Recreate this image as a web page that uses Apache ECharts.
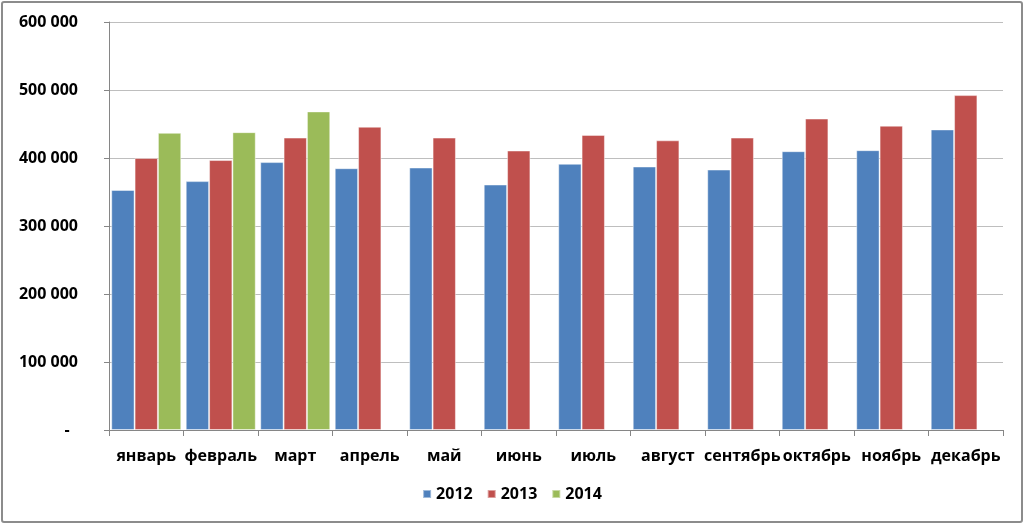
<!DOCTYPE html>
<html>
<head>
<meta charset="utf-8">
<script src="https://cdn.jsdelivr.net/npm/echarts@6/dist/echarts.min.js"></script>
<style>
html,body{margin:0;padding:0;background:#fff;}
#frame{position:absolute;left:1px;top:1px;width:1018px;height:518px;border:2px solid #8c8c8c;border-radius:3px;}
#chart{position:absolute;left:0;top:0;width:1024px;height:524px;}
</style>
</head>
<body>
<div id="frame"></div>
<div id="chart"></div>
<script>
const categories = ['январь','февраль','март','апрель','май','июнь','июль','август','сентябрь','октябрь','ноябрь','декабрь'];
const seriesNames = ['2012','2013','2014'];
const values2012 = [353000, 366000, 394000, 385000, 386000, 361000, 391500, 387500, 383000, 410000, 411500, 442000];
const values2013 = [400000, 397000, 430000, 446000, 430000, 411000, 434000, 426000, 430000, 458000, 447500, 492500];
const values2014 = [437000, 438000, 468500, null, null, null, null, null, null, null, null, null];
const colors = ['#4F81BD', '#C0504D', '#9BBB59'];

const FONT = 'Open Sans';
function fmt(v){
  if (v === 0) return '-  ';
  return String(v).replace(/\B(?=(\d{3})+(?!\d))/g, ' ');
}
const chart = echarts.init(document.getElementById('chart'), null, {renderer:'canvas'});
const data = [values2012, values2013, values2014];
chart.setOption({
  animation: false,
  color: colors,
  grid: {left: 109, right: 21, top: 22, bottom: 94, containLabel: false},
  legend: {
    bottom: 17, left: 'center',
    itemWidth: 8, itemHeight: 8, itemGap: 14,
    icon: 'rect',
    textStyle: {fontFamily: FONT, fontWeight: 'bold', fontSize: 16, color: '#000'},
    data: seriesNames
  },
  xAxis: {
    type: 'category', data: categories,
    axisLine: {lineStyle: {color: '#868686', width: 1}},
    axisTick: {show: true, length: 6, lineStyle: {color: '#868686'}},
    axisLabel: {interval: 0, margin: 18, fontFamily: FONT, fontWeight: 'bold', fontSize: 16, color: '#000'}
  },
  yAxis: {
    type: 'value', min: 0, max: 600000, interval: 100000,
    axisLine: {show: true, lineStyle: {color: '#868686', width: 1}},
    axisTick: {show: true, length: 5, lineStyle: {color: '#868686'}},
    splitLine: {lineStyle: {color: '#bebebe', width: 1}},
    axisLabel: {margin: 31, fontFamily: FONT, fontWeight: 'bold', fontSize: 16, color: '#000', formatter: fmt}
  },
  series: seriesNames.map((n, i) => ({
    name: n, type: 'bar', data: data[i],
    barGap: '0%', barCategoryGap: '6%',
    itemStyle: {color: colors[i], borderColor: 'rgba(255,255,255,0.45)', borderWidth: 1}
  }))
});
</script>
</body>
</html>
